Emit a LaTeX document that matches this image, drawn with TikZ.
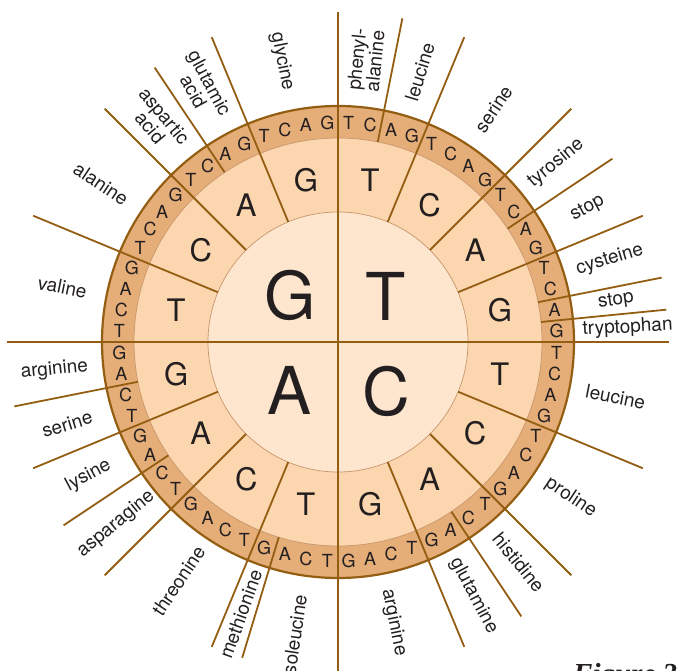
\documentclass[tikz,border=0pt]{standalone}
\usepackage{fontspec}
\setmainfont{TeX Gyre Heros}
\newfontfamily\figfont{Liberation Serif}
\definecolor{ringout}{HTML}{E5AD78}
\definecolor{ringmid}{HTML}{FCD6AE}
\definecolor{ringin}{HTML}{FEE6CE}
\definecolor{spoke}{HTML}{935E12}
\definecolor{rim}{HTML}{C8966C}
\definecolor{ink}{HTML}{231F20}
\tikzset{
  spokeline/.style={draw=spoke, line width=1.8pt},
  aalabel/.style={font=\fontsize{19}{18.5}\selectfont, text=ink, align=center, inner sep=0pt},
  basethree/.style={font=\fontsize{18}{18}\selectfont, text=ink, inner sep=0pt},
  basetwo/.style={font=\fontsize{31}{31}\selectfont, text=ink, inner sep=0pt},
  baseone/.style={font=\fontsize{66}{66}\selectfont, text=ink, inner sep=0pt},
}
\begin{document}
\begin{tikzpicture}[x=1pt,y=1pt]
\useasboundingbox (-338,-329) rectangle (339,342);
% rings
\fill[ringout] (0,0) circle (236);
\filldraw[fill=ringmid, draw=rim, line width=0.7pt] (0,0) circle (204);
\filldraw[fill=ringin, draw=rim, line width=0.7pt] (0,0) circle (130);
% axes
\draw[spokeline] (0,330) -- (0,-330);
\draw[spokeline] (-331,0) -- (331,0);
% spokes
\foreach \a/\r in {78.75/204, 67.5/130, 45/130, 33.75/204, 22.5/130, 11.25/204, 5.625/204,
  -22.5/130, -45/130, -56.25/204, -67.5/130,
  -106.875/204, -112.5/130, -135/130, -146.25/204, -157.5/130, -168.75/204,
  157.5/130, 135/130, 123.75/204, 112.5/130}
  \draw[spokeline] (\a:\r) -- (\a:330);
\draw[draw=spoke, line width=2.2pt] (0,0) circle (236);
% first base
\node[baseone] (fG) at (-48,47) {G};
\node[baseone] (fT) at (48,46) {T};
\node[baseone] (fA) at (-48,-48) {A};
\node[baseone] (fC) at (48,-49) {C};
% second base
\foreach \q in {0,...,3}
  \foreach \l [count=\s from 0] in {T,C,A,G}
    \node[basetwo] (s\q\s) at ({90-22.5*(4*\q+\s+0.5)}:165) {\l};
% third base
\foreach \m in {0,...,15}
  \foreach \l [count=\t from 0] in {T,C,A,G}
    \node[basethree] (t\m\t) at ({90-5.625*(4*\m+\t+0.5)}:219) {\l};
% amino acid labels
\node[aalabel, rotate=84.375] (phe) at (84.375:283) {phenyl-\\alanine};
\node[aalabel, rotate=73.125] (leu1) at (73.125:282) {leucine};
\node[aalabel, rotate=56.25] (ser1) at (56.25:280) {serine};
\node[aalabel, rotate=39.375] (tyr) at (39.375:282) {tyrosine};
\node[aalabel, rotate=28.125] (stop1) at (28.125:283) {stop};
\node[aalabel, rotate=16.875] (cys) at (16.875:284) {cysteine};
\node[aalabel, rotate=8.4375] (stop2) at (8.4375:281) {stop};
\node[aalabel, rotate=2.8125] (trp) at (2.8125:290) {tryptophan};
\node[aalabel, rotate=-11.25] (leu2) at (-11.25:283) {leucine};
\node[aalabel, rotate=-33.75] (pro) at (-33.75:280) {proline};
\node[aalabel, rotate=-50.625] (his) at (-50.625:285) {histidine};
\node[aalabel, rotate=-61.875] (gln) at (-61.875:288) {glutamine};
\node[aalabel, rotate=-78.75] (arg1) at (-78.75:286) {arginine};
\node[aalabel, rotate=81.5625] (ile) at (-98.4375:298) {isoleucine};
\node[aalabel, rotate=70.3125] (met) at (-109.6875:289) {methionine};
\node[aalabel, rotate=56.25] (thr) at (-123.75:287) {threonine};
\node[aalabel, rotate=39.375] (asn) at (-140.625:287) {asparagine};
\node[aalabel, rotate=28.125] (lys) at (-151.875:283) {lysine};
\node[aalabel, rotate=16.875] (ser2) at (-163.125:283) {serine};
\node[aalabel, rotate=5.625] (arg2) at (-174.375:285) {arginine};
\node[aalabel, rotate=-11.25] (val) at (168.75:281) {valine};
\node[aalabel, rotate=-33.75] (ala) at (146.25:285) {alanine};
\node[aalabel, rotate=-50.625] (asp) at (129.375:285) {aspartic\\acid};
\node[aalabel, rotate=-61.875] (glu) at (118.125:289) {glutamic\\acid};
\node[aalabel, rotate=-78.75] (gly) at (101.25:286) {glycine};
% caption (cut by the page edge)
\node[anchor=base west, inner sep=0pt, text=ink, font=\figfont\bfseries\itshape\fontsize{29}{29}\selectfont] (fig) at (235,-341) {Figure 3};
\end{tikzpicture}
\end{document}
